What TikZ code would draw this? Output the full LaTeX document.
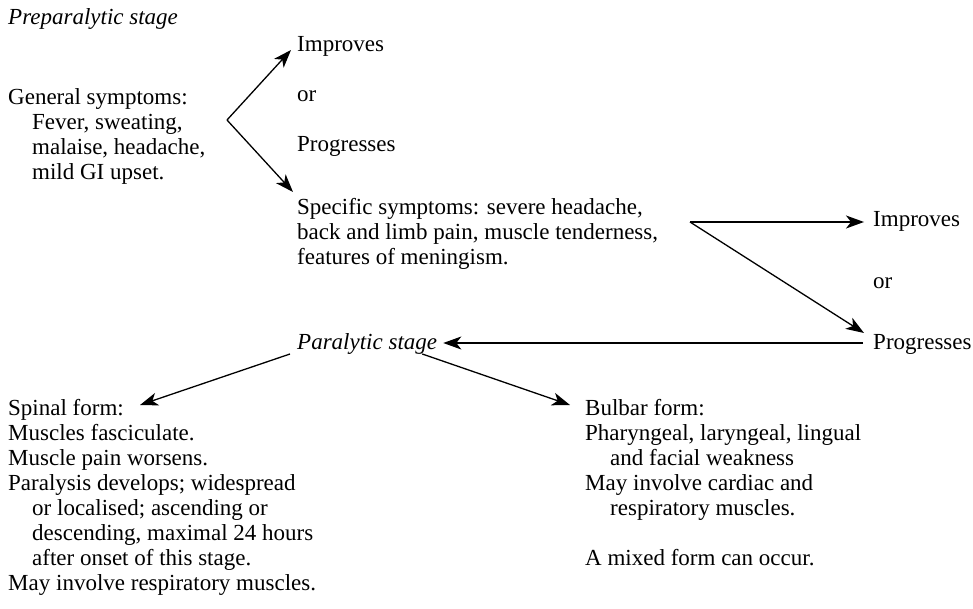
\documentclass[tikz,border=0pt]{standalone}
\usepackage{fontspec}
\setmainfont{Liberation Serif}
\usetikzlibrary{arrows.meta,calc}
\begin{document}
\begin{tikzpicture}[x=1pt,y=-1pt,
  txt/.style={anchor=base west, inner sep=0pt, font=\fontsize{23}{25}\selectfont},
  itxt/.style={anchor=base west, inner sep=0pt, font=\fontsize{23}{25}\selectfont\itshape},
  arr/.style={-{Stealth[length=18pt,width=13pt,inset=5pt]}, line width=1.3pt}]
\useasboundingbox (0,0) rectangle (973,609);
% top left
\node[itxt] (prep) at (8,25) {Preparalytic stage};
\node[txt] (gen) at (8,105) {General symptoms:};
\node[txt] (gen2) at (32,130) {Fever, sweating,};
\node[txt] (gen3) at (32,155) {malaise, headache,};
\node[txt] (gen4) at (32,180) {mild GI upset.};
% first fork
\node[txt] (imp1) at (297,52) {Improves};
\node[txt] (or1) at (297,102) {or};
\node[txt] (prog1) at (297,152) {Progresses};
\node[txt] (spec1) at (297,215) {Specific symptoms: severe headache,};
\node[txt] (spec2) at (297,240) {back and limb pain, muscle tenderness,};
\node[txt] (spec3) at (297,265) {features of meningism.};
% second fork
\node[txt] (imp2) at (873,227) {Improves};
\node[txt] (or2) at (873,288) {or};
\node[txt] (prog2) at (873,349) {Progresses};
\node[itxt] (paral) at (297,349) {Paralytic stage};
% spinal
\node[txt] (sp1) at (8,415) {Spinal form:};
\node[txt] (sp2) at (8,440) {Muscles fasciculate.};
\node[txt] (sp3) at (8,465) {Muscle pain worsens.};
\node[txt] (sp4) at (8,490) {Paralysis develops; widespread};
\node[txt] (sp5) at (32,515) {or localised; ascending or};
\node[txt] (sp6) at (32,540) {descending, maximal 24 hours};
\node[txt] (sp7) at (32,565) {after onset of this stage.};
\node[txt] (sp8) at (8,590) {May involve respiratory muscles.};
% bulbar
\node[txt] (bu1) at (585,415) {Bulbar form:};
\node[txt] (bu2) at (585,440) {Pharyngeal, laryngeal, lingual};
\node[txt] (bu3) at (610,465) {and facial weakness};
\node[txt] (bu4) at (585,490) {May involve cardiac and};
\node[txt] (bu5) at (610,515) {respiratory muscles.};
\node[txt] (bu6) at (585,565) {A mixed form can occur.};
% connectors
\coordinate (v1) at (227,120);
\coordinate (v2) at (690,222);
\draw[arr] (v1) -- ($(imp1.base west)+(-6,-2)$);
\draw[arr] (v1) -- ($(spec1.base west)+(-4,-23)$);
\draw[arr] (v2) -- ($(imp2.base west)+(-9,-5)$);
\draw[arr] (v2) -- ($(prog2.base west)+(-9,-16)$);
\draw[arr] ($(prog2.base west)+(-10,-6)$) -- ($(paral.base east)+(6,-6)$);
\draw[arr] ($(paral.base west)+(-7,5)$) -- ($(sp1.base west)+(132,-10)$);
\draw[arr] ($(paral.base east)+(-15,5)$) -- ($(bu1.base west)+(-15,-10)$);
\end{tikzpicture}
\end{document}
